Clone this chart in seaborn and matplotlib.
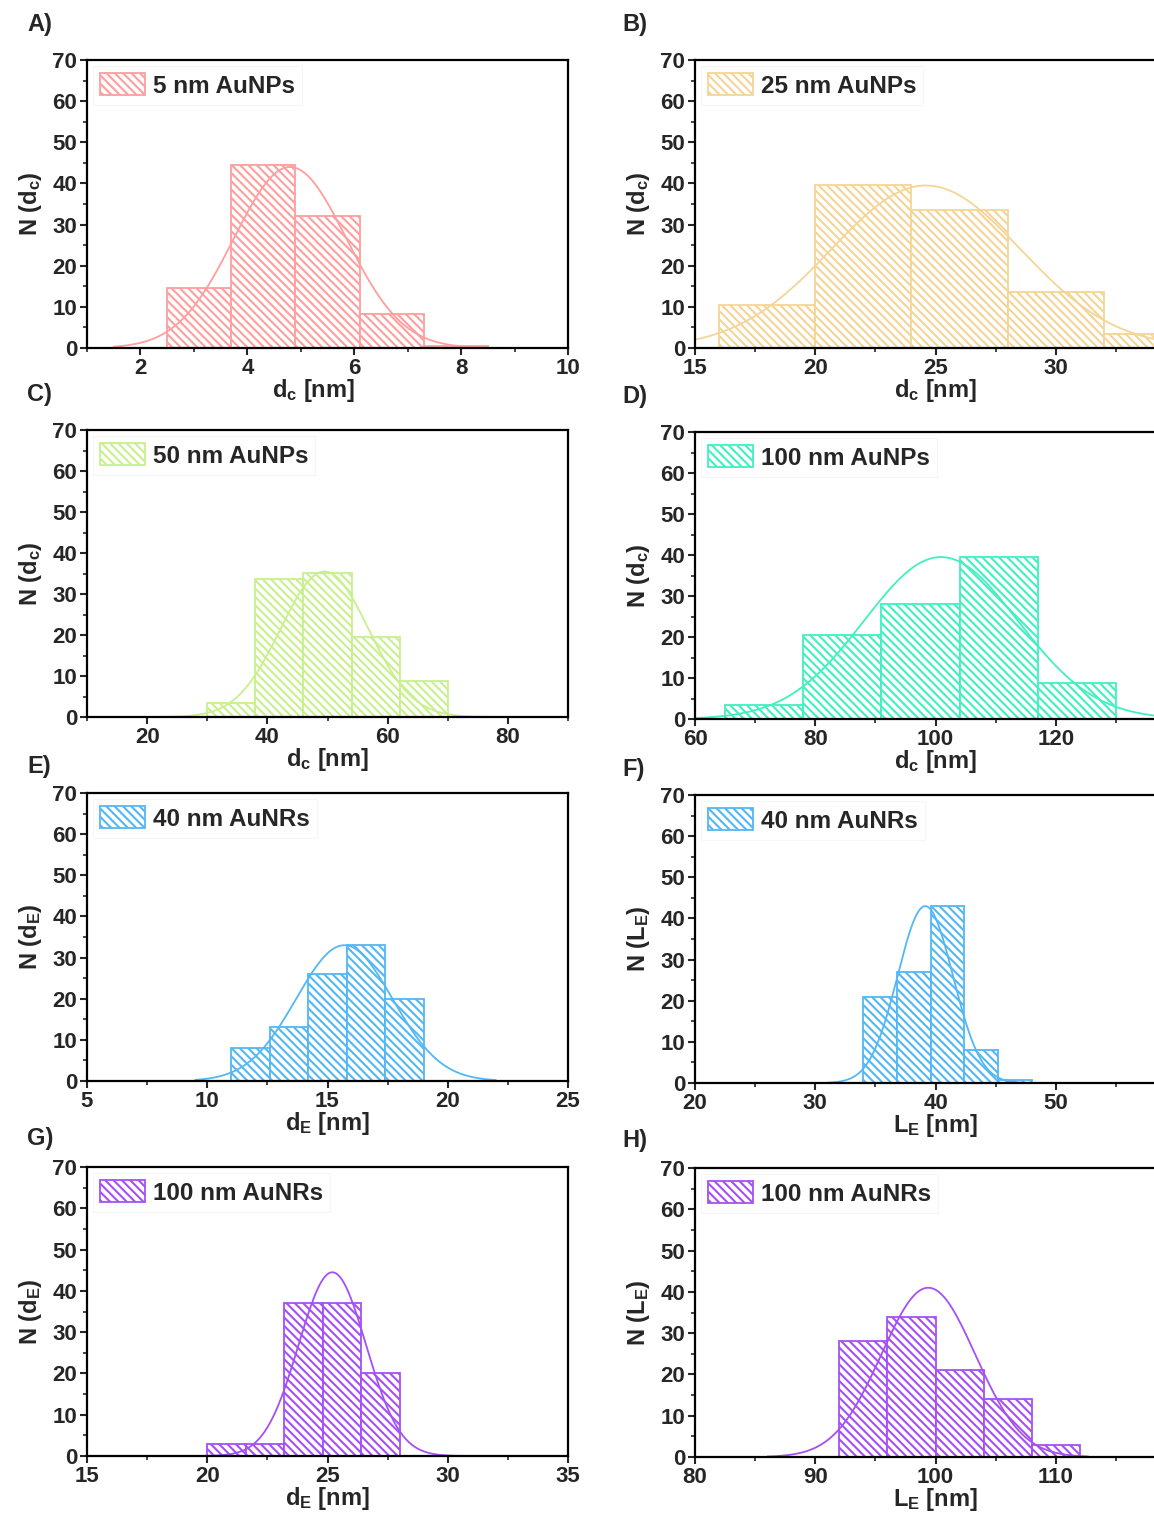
import numpy as np
import pandas as pd
import matplotlib
matplotlib.use("Agg")
import matplotlib.pyplot as plt
from matplotlib.patches import Patch
from matplotlib.ticker import AutoMinorLocator, MultipleLocator
import seaborn as sns

# ---------------- data ----------------
panel_letters = ["A)", "B)", "C)", "D)", "E)", "F)", "G)", "H)"]
legend_labels = ["5 nm AuNPs", "25 nm AuNPs", "50 nm AuNPs", "100 nm AuNPs",
                 "40 nm AuNRs", "40 nm AuNRs", "100 nm AuNRs", "100 nm AuNRs"]
x_labels = ["d$_{c}$ [nm]", "d$_{c}$ [nm]", "d$_{c}$ [nm]", "d$_{c}$ [nm]",
            "d$_{E}$ [nm]", "L$_{E}$ [nm]", "d$_{E}$ [nm]", "L$_{E}$ [nm]"]
y_labels = ["N (d$_{c}$)", "N (d$_{c}$)", "N (d$_{c}$)", "N (d$_{c}$)",
            "N (d$_{E}$)", "N (L$_{E}$)", "N (d$_{E}$)", "N (L$_{E}$)"]
colors = ["#FF9E9E", "#F5D596", "#C8F08C", "#40F0C0",
          "#52B8F5", "#52B8F5", "#A550F5", "#A550F5"]

edges_A = [2.5, 3.7, 4.9, 6.1, 7.3, 8.5]
counts_A = [14.5, 44.5, 32.0, 8.2, 0.5]
edges_B = [16, 20, 24, 28, 32, 36]
counts_B = [10.5, 39.5, 33.5, 13.5, 3.3]
edges_C = [30, 38, 46, 54, 62, 70]
counts_C = [3.4, 33.6, 35.2, 19.4, 8.8]
edges_D = [65, 78, 91, 104, 117, 130]
counts_D = [3.5, 20.4, 28.0, 39.5, 8.8]
edges_E = [11.0, 12.6, 14.2, 15.8, 17.4, 19.0]
counts_E = [8.0, 13.1, 26.0, 33.0, 20.0]
edges_F = [34.0, 36.8, 39.6, 42.4, 45.2, 48.0]
counts_F = [21.0, 27.0, 43.0, 8.0, 0.8]
edges_G = [20.0, 21.6, 23.2, 24.8, 26.4, 28.0]
counts_G = [3.0, 3.0, 37.0, 37.0, 20.0]
edges_H = [92, 96, 100, 104, 108, 112]
counts_H = [28.0, 34.0, 21.0, 14.0, 3.0]

# Gaussian fit parameters: amplitude, centre, sigma, drawn range
fit_A = (44.0, 4.8, 1.05, 1.5, 8.5)
fit_B = (39.5, 24.6, 3.94, 14.0, 36.0)
fit_C = (35.5, 49.5, 7.3, 22.0, 78.0)
fit_D = (39.5, 100.9, 12.8, 60.0, 140.0)
fit_E = (33.0, 15.7, 2.0, 9.5, 22.0)
fit_F = (43.0, 39.15, 2.3, 31.0, 48.0)
fit_G = (44.5, 25.2, 1.4, 19.5, 31.0)
fit_H = (41.0, 99.4, 3.9, 86.0, 112.7)

x_limits = [(1, 10), (15, 35), (10, 90), (60, 140), (5, 25), (20, 60), (15, 35), (80, 120)]
x_major = [2, 5, 20, 20, 5, 10, 5, 10]
xlabel_xpos = [0.47, 0.5, 0.5, 0.5, 0.5, 0.5, 0.5, 0.5]

all_edges = [edges_A, edges_B, edges_C, edges_D, edges_E, edges_F, edges_G, edges_H]
all_counts = [counts_A, counts_B, counts_C, counts_D, counts_E, counts_F, counts_G, counts_H]
all_fits = [fit_A, fit_B, fit_C, fit_D, fit_E, fit_F, fit_G, fit_H]

# ---------------- style ----------------
sns.set_style("ticks")
plt.rcParams["font.family"] = ["Liberation Sans", "DejaVu Sans"]
plt.rcParams["font.weight"] = "bold"
plt.rcParams["axes.labelweight"] = "bold"
plt.rcParams["mathtext.fontset"] = "custom"
plt.rcParams["mathtext.rm"] = "Liberation Sans:bold"
plt.rcParams["mathtext.it"] = "Liberation Sans:bold"
plt.rcParams["mathtext.bf"] = "Liberation Sans:bold"
plt.rcParams["mathtext.default"] = "bf"
plt.rcParams["hatch.linewidth"] = 1.5

W, H = 1154, 1517
fig = plt.figure(figsize=(W / 100, H / 100), dpi=100)

# axes boxes in pixels: (left, top, right, bottom)
boxes = [
    (87, 60, 568, 348), (695, 60, 1176, 348),
    (87, 430, 568, 717), (695, 432, 1176, 719),
    (87, 793, 568, 1081), (695, 795, 1176, 1083),
    (87, 1167, 568, 1456), (695, 1168, 1176, 1457),
]
letter_pos = [(27, 25), (622, 25), (27, 395), (622, 397),
              (27, 767), (622, 769), (27, 1139), (622, 1140)]

FS = 16
FS_LAB = 17
FS_LEG = 17.5
FS_LET = 17
HATCH = "\\\\\\\\"
for i in range(8):
    l, t, r, b = boxes[i]
    ax = fig.add_axes([l / W, 1 - b / H, (r - l) / W, (b - t) / H])
    edges = [float(e) for e in all_edges[i]]
    counts = [float(c) for c in all_counts[i]]
    centers = [(edges[k] + edges[k + 1]) / 2 for k in range(len(counts))]
    df = pd.DataFrame({"x": centers, "w": counts})
    col = colors[i]

    sns.histplot(data=df, x="x", weights="w", bins=edges, ax=ax,
                 color=col, stat="count", element="bars", fill=True)
    for p in ax.patches:
        p.set_alpha(1)
        p.set_facecolor("white")
        p.set_edgecolor(col)
        p.set_hatch(HATCH)
        p.set_linewidth(1.3)

    amp, mu, sig, x0, x1 = all_fits[i]
    xs = np.linspace(x0, x1, 300)
    ys = amp * np.exp(-(xs - mu) ** 2 / (2 * sig ** 2))
    sns.lineplot(x=xs, y=ys, ax=ax, color=col, linewidth=1.3)

    xmin, xmax = x_limits[i]
    ax.set_xlim(xmin, xmax)
    ax.set_ylim(0, 70)
    # only label ticks that fall inside the visible part of the figure
    visible_max = xmin + (min(r, W) - l) / (r - l) * (xmax - xmin)
    step = x_major[i]
    ticks = [v for v in np.arange(np.ceil(xmin / step) * step, xmax + step / 2, step)
             if v <= visible_max + 1e-9]
    ax.set_xticks(ticks)
    ax.xaxis.set_minor_locator(AutoMinorLocator(2))
    ax.yaxis.set_major_locator(MultipleLocator(10))
    ax.yaxis.set_minor_locator(AutoMinorLocator(2))
    ax.tick_params(axis="both", which="major", direction="out", length=5, width=1.5,
                   labelsize=FS, pad=2)
    ax.tick_params(axis="both", which="minor", direction="out", length=3, width=1.2)
    for sp in ax.spines.values():
        sp.set_visible(True)
        sp.set_linewidth(1.6)
        sp.set_color("black")
    for lab in ax.get_xticklabels() + ax.get_yticklabels():
        lab.set_fontweight("bold")

    ax.set_xlabel(x_labels[i], fontsize=FS_LAB, fontweight="bold")
    ax.xaxis.set_label_coords(xlabel_xpos[i], -29.0 / (b - t))
    ax.xaxis.label.set_va("top")
    ax.set_ylabel(y_labels[i], fontsize=FS_LAB, fontweight="bold", labelpad=6)

    handle = Patch(facecolor="white", edgecolor=col, hatch=HATCH, linewidth=1.3)
    leg = ax.legend([handle], [legend_labels[i]], loc="upper left",
                    prop={"size": FS_LEG, "weight": "bold"},
                    handlelength=1.85, handleheight=1.0, handletextpad=0.3,
                    borderaxespad=0.25, borderpad=0.3, frameon=True, fancybox=False)
    leg.get_frame().set_edgecolor("#f4f4f4")
    leg.get_frame().set_linewidth(0.8)

    lx, ly = letter_pos[i]
    fig.text(lx / W, 1 - ly / H, panel_letters[i], fontsize=FS_LET, fontweight="bold",
             ha="left", va="center")

fig.savefig("out.png", dpi=100)
